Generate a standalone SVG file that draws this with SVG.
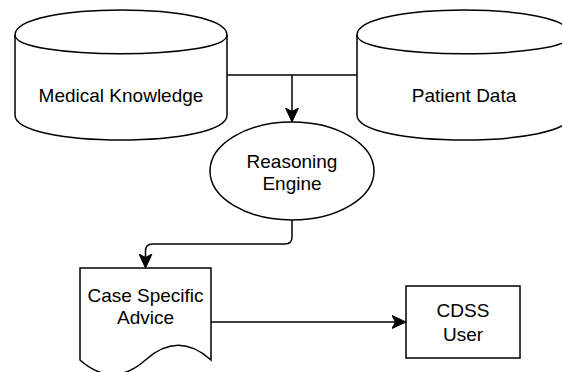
<svg xmlns="http://www.w3.org/2000/svg" width="562" height="372" viewBox="0 0 562 372">
  <style>
    .shape { fill: #ffffff; stroke: #000000; stroke-width: 1.5; }
    .edge { fill: none; stroke: #000000; stroke-width: 1.5; }
    .label { font-family: "Liberation Sans", Arial, Helvetica, sans-serif; font-size: 19px; fill: #000000; text-anchor: middle; }
  </style>
  <defs>
    <marker id="arrow" viewBox="0 0 14 14" refX="11" refY="7" markerWidth="14" markerHeight="14" markerUnits="userSpaceOnUse" orient="auto">
      <path d="M0,0.5 L14,7 L0,13.5 L3.5,7 Z" fill="#000000" stroke="#000000" stroke-width="1"/>
    </marker>
  </defs>

  <g id="connectors">
    <path class="edge" d="M227,75 L357,75"/>
    <path class="edge" d="M292,75 L292,119" marker-end="url(#arrow)"/>
    <path class="edge" d="M292,220 L292,237 Q292,244 285,244 L152.5,244 Q145.5,244 145.5,251 L145.5,265" marker-end="url(#arrow)"/>
    <path class="edge" d="M211,322 L403,322" marker-end="url(#arrow)"/>
  </g>

  <g id="medical-knowledge">
    <path class="shape" d="M15,35 C15,1.67 227,1.67 227,35 L227,115 C227,148.33 15,148.33 15,115 Z"/>
    <path class="edge" d="M15,35 C15,60 227,60 227,35"/>
    <text class="label" x="121" y="102">Medical Knowledge</text>
  </g>

  <g id="patient-data">
    <path class="shape" d="M357,35 C357,1.67 571,1.67 571,35 L571,115 C571,148.33 357,148.33 357,115 Z"/>
    <path class="edge" d="M357,35 C357,60 571,60 571,35"/>
    <text class="label" x="464" y="102">Patient Data</text>
  </g>

  <g id="reasoning-engine">
    <ellipse class="shape" cx="292" cy="171" rx="82" ry="49"/>
    <text class="label" x="292" y="168">Reasoning</text>
    <text class="label" x="292" y="190">Engine</text>
  </g>

  <g id="case-specific-advice">
    <path class="shape" d="M80,268 L211,268 L211,360 Q178.25,330.6 145.5,360 Q112.75,389 80,360 Z"/>
    <text class="label" x="145.5" y="302">Case Specific</text>
    <text class="label" x="145.5" y="324">Advice</text>
  </g>

  <g id="cdss-user">
    <rect class="shape" x="406" y="286" width="114" height="72"/>
    <text class="label" x="463" y="317">CDSS</text>
    <text class="label" x="463" y="341">User</text>
  </g>
</svg>
